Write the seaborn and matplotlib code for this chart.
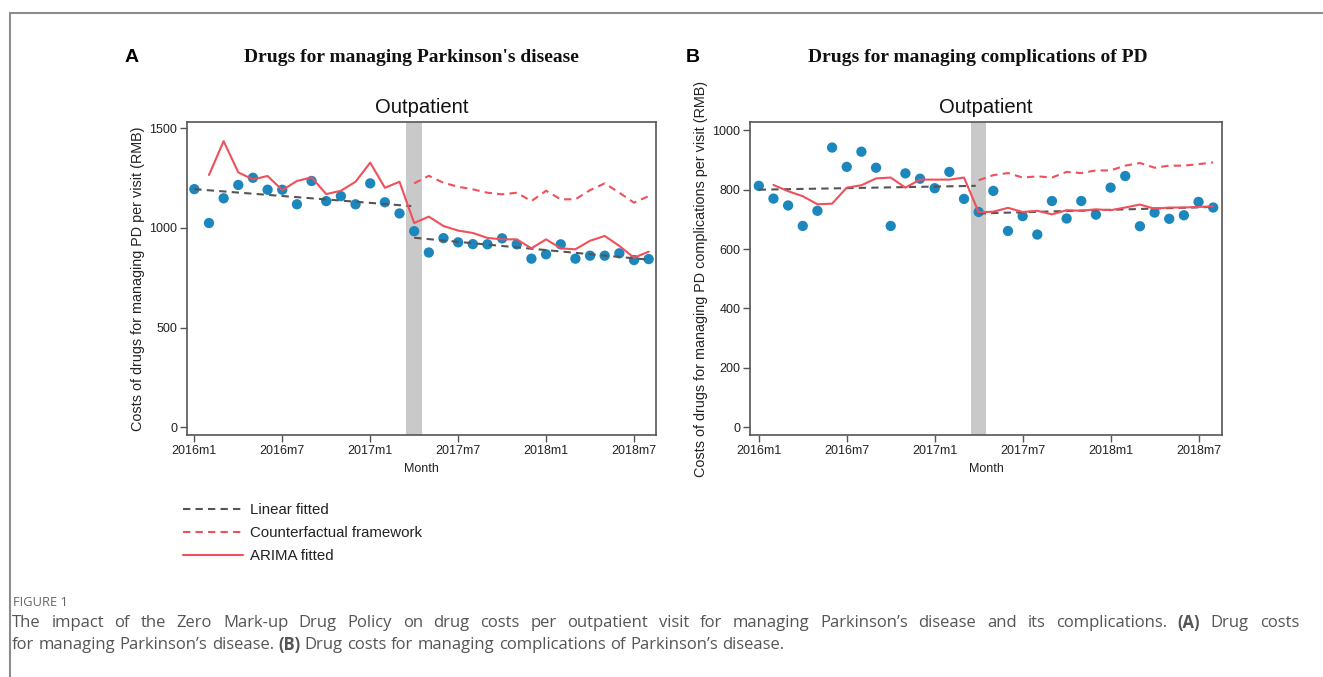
import numpy as np
import pandas as pd
import seaborn as sns
import matplotlib.pyplot as plt
from matplotlib.lines import Line2D

# meses: 0 = 2016m1 ... 31 = 2018m8
months = list(range(32))
post_months = list(range(15, 32))
arima_months = list(range(1, 32))
tick_pos = [0, 6, 12, 18, 24, 30]
tick_lab = ['2016m1', '2016m7', '2017m1', '2017m7', '2018m1', '2018m7']

# painel A - medicamentos para Parkinson
obsA = [1195, 1025, 1149, 1216, 1252, 1192, 1192, 1119, 1236, 1135, 1160, 1119,
        1224, 1129, 1073, 984, 877, 949, 928, 919, 918, 948, 918, 846,
        868, 918, 846, 861, 861, 873, 839, 844]
arimaA = [1266, 1436, 1279, 1244, 1261, 1190, 1236, 1254, 1170, 1187, 1232, 1328,
          1202, 1232, 1025, 1057, 1010, 987, 975, 950, 943, 943, 898, 943,
          898, 893, 936, 960, 910, 851, 881]
cfA = [1224, 1262, 1227, 1207, 1194, 1177, 1169, 1177, 1135, 1187, 1144, 1144,
       1190, 1224, 1177, 1127, 1160]
linA_pre_x = [0, 14.8]
linA_pre = [1195, 1110]
linA_post_x = [15, 31]
linA_post = [951, 841]

# painel B - complicações da DP
obsB = [813, 770, 747, 678, 729, 942, 877, 928, 874, 678, 855, 837,
        805, 860, 769, 725, 796, 661, 711, 649, 762, 703, 762, 716,
        807, 846, 677, 723, 702, 714, 759, 740]
arimaB = [816, 795, 778, 751, 753, 807, 815, 838, 841, 807, 834, 834,
          834, 841, 724, 726, 739, 725, 729, 717, 731, 729, 734, 731,
          740, 750, 736, 740, 740, 742, 744]
cfB = [832, 849, 856, 841, 845, 841, 860, 856, 865, 865, 881, 890,
       874, 881, 881, 886, 892]
linB_pre_x = [0, 14.8]
linB_pre = [800, 813]
linB_post_x = [15, 31]
linB_post = [720, 742]

blue = '#1b87bd'
red = '#f0505c'
gray = '#555555'

sns.set_theme(style='ticks')
plt.rcParams['font.family'] = ['Liberation Sans', 'DejaVu Sans']

W, H = 1323, 677
fig = plt.figure(figsize=(W / 100, H / 100), dpi=100)


def fx(px):
    return px / W


def fy(py):
    return 1 - py / H


def painel(rect, obs, arima, cf, lpx, lp, lqx, lq, ylim, yticks, xlim, ylabel):
    ax = fig.add_axes(rect)
    ax.axvspan(14.45, 15.52, color='#c9c9c9', lw=0, zorder=0)
    sns.scatterplot(x=months, y=obs, ax=ax, color=blue, s=55, edgecolor='none',
                    zorder=2, legend=False)
    sns.lineplot(x=lpx, y=lp, ax=ax, color=gray, lw=1.5,
                 linestyle=(0, (3.5, 2.5)), zorder=3)
    sns.lineplot(x=lqx, y=lq, ax=ax, color=gray, lw=1.5,
                 linestyle=(0, (3.5, 2.5)), zorder=3)
    sns.lineplot(x=post_months, y=cf, ax=ax, color=red, lw=1.5,
                 linestyle=(0, (3.5, 2.5)), zorder=3)
    sns.lineplot(x=arima_months, y=arima, ax=ax, color=red, lw=1.5, zorder=4)
    ax.set_xlim(*xlim)
    ax.set_ylim(*ylim)
    ax.set_xticks(tick_pos)
    ax.set_xticklabels(tick_lab)
    ax.set_yticks(yticks)
    ax.tick_params(axis='both', labelsize=9, length=5, width=1, color=gray,
                   pad=2, labelcolor='#222222')
    for s in ax.spines.values():
        s.set_color(gray)
        s.set_linewidth(1.2)
    ax.set_xlabel('Month', fontsize=9, labelpad=4.5, color='#222222')
    ax.set_ylabel(ylabel, fontsize=10.4, labelpad=3, color='#222222')
    ax.text(0.5, 1.045, 'Outpatient', transform=ax.transAxes, ha='center',
            va='center', fontsize=14.6, color='#111111')
    return ax


axA = painel([fx(187), fy(435), fx(656) - fx(187), fy(122) - fy(435)],
             obsA, arimaA, cfA, linA_pre_x, linA_pre, linA_post_x, linA_post,
             (-39, 1532), [0, 500, 1000, 1500], (-0.5, 31.5),
             'Costs of drugs for managing PD per visit (RMB)')
axB = painel([fx(750), fy(435), fx(1222) - fx(750), fy(122) - fy(435)],
             obsB, arimaB, cfB, linB_pre_x, linB_pre, linB_post_x, linB_post,
             (-26, 1028), [0, 200, 400, 600, 800, 1000], (-0.6, 31.6),
             'Costs of drugs for managing PD complications per visit (RMB)')

# títulos dos painéis
fig.text(fx(132), fy(57), 'A', fontsize=14, fontweight='bold', ha='center',
         va='center', color='black')
fig.text(fx(693), fy(57), 'B', fontsize=14, fontweight='bold', ha='center',
         va='center', color='black')
fig.text(fx(411), fy(57), "Drugs for managing Parkinson's disease",
         family='Liberation Serif', fontsize=14, fontweight='bold',
         ha='center', va='center', color='#111111')
fig.text(fx(978), fy(57), 'Drugs for managing complications of PD',
         family='Liberation Serif', fontsize=14, fontweight='bold',
         ha='center', va='center', color='#111111')

# legenda
handles = [Line2D([], [], color=gray, lw=1.5, linestyle=(0, (3.5, 2.5))),
           Line2D([], [], color=red, lw=1.5, linestyle=(0, (3.5, 2.5))),
           Line2D([], [], color=red, lw=1.5)]
labels = ['Linear fitted', 'Counterfactual framework', 'ARIMA fitted']
fig.legend(handles, labels, loc='upper left', bbox_to_anchor=(fx(183), fy(503)),
           frameon=False, fontsize=10.8, handlelength=4.0, handletextpad=0.45,
           labelspacing=0.6, borderpad=0, borderaxespad=0,
           labelcolor='#222222')

# moldura
fig.add_artist(Line2D([fx(10), 1.0], [fy(13), fy(13)], color='#8c8c8c', lw=1.5))
fig.add_artist(Line2D([fx(10), fx(10)], [fy(13), 0.0], color='#8c8c8c', lw=1.5))

# legenda da figura (primeira linha justificada)
capc = '#555555'
fig.text(fx(13), fy(602), 'FIGURE 1', family='Open Sans', fontsize=9.3,
         color='#666666', va='center')

rend = fig.canvas.get_renderer()
linha1 = [("The impact of the Zero Mark-up Drug Policy on drug costs per outpatient "
           "visit for managing Parkinson\u2019s disease and its complications.", 'normal'),
          ("(A)", 'bold'), ("Drug costs", 'normal')]
linha2 = [("for managing Parkinson\u2019s disease.", 'normal'), ("(B)", 'bold'),
          ("Drug costs for managing complications of Parkinson\u2019s disease.", 'normal')]


def palavras(partes):
    out = []
    for s, w in partes:
        out += [(p, w) for p in s.split(' ')]
    return out


def medir(p, w, size):
    t = fig.text(0, 0, p, family='Open Sans', fontsize=size, fontweight=w)
    larg = t.get_window_extent(rend).width
    t.remove()
    return larg


def escrever(x0, y, partes, size, largura=None, draw=True):
    ws = palavras(partes)
    lw = [medir(p, w, size) for p, w in ws]
    esp = medir('a b', 'normal', size) - medir('ab', 'normal', size)
    if largura is not None:
        esp = (largura - sum(lw)) / (len(ws) - 1)
    x = x0
    for (p, w), l in zip(ws, lw):
        if draw:
            fig.text(fx(x), fy(y), p, family='Open Sans', fontsize=size,
                     fontweight=w, color=capc, va='center')
        x += l + esp
    return x - esp - x0


# tamanho da fonte a partir da largura natural da segunda linha
base = escrever(0, 0, linha2, 10, draw=False)
tam = 10 * 775 / base
escrever(12, 623, linha1, tam, largura=1287)
escrever(12, 645, linha2, tam)

fig.savefig('out.png', dpi=100)
